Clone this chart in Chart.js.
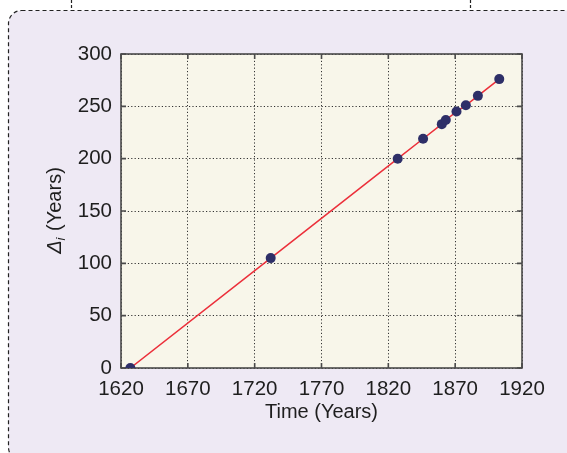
<!DOCTYPE html>
<html>
<head>
<meta charset="utf-8">
<script src="https://cdn.jsdelivr.net/npm/chart.js@4.4.0/dist/chart.umd.min.js"></script>
<style>
  html, body { margin: 0; padding: 0; background: #ffffff; }
  #wrap { width: 567px; height: 453px; position: relative; }
</style>
</head>
<body>
<div id="wrap"><canvas id="deltaChart"></canvas></div>
<script>
// observation years and the elapsed interval (years)
var years  = [1627, 1732, 1827, 1846, 1860, 1863, 1871, 1878, 1887, 1903];
var deltas = [0, 105, 200, 219, 233, 237, 245, 251, 260, 276];

var xTicks = [1620, 1670, 1720, 1770, 1820, 1870, 1920];
var yTicks = [0, 50, 100, 150, 200, 250, 300];

var FONT = '"Liberation Sans", Arial, Helvetica, sans-serif';
var TEXT = '#1e1e1e';

var points = [];
for (var i = 0; i < years.length; i++) {
    points.push({x: years[i], y: deltas[i]});
}

// lavender panel, dashed outline, cream plot box
var panelBg = {
    id: 'panelBg',
    beforeDraw: function(chart) {
        var ctx = chart.ctx, a = chart.chartArea;
        ctx.save();
        ctx.fillStyle = '#ffffff';
        ctx.fillRect(0, 0, chart.width, chart.height);

        ctx.beginPath();
        ctx.roundRect(8.5, 10.5, 570, 450, 13);
        ctx.fillStyle = '#eee9f4';
        ctx.fill();
        ctx.setLineDash([4, 3]);
        ctx.strokeStyle = '#222222';
        ctx.lineWidth = 1.2;
        ctx.stroke();

        // stubs of the callout above
        ctx.beginPath();
        ctx.moveTo(71.5, 0); ctx.lineTo(71.5, 10);
        ctx.moveTo(470.5, 0); ctx.lineTo(470.5, 10);
        ctx.setLineDash([3, 2]);
        ctx.stroke();
        ctx.setLineDash([]);

        ctx.fillStyle = '#f8f6ea';
        ctx.fillRect(a.left, a.top, a.right - a.left, a.bottom - a.top);
        ctx.restore();
    }
};

// matlab style box with inward ticks, plus y axis label
var boxFrame = {
    id: 'boxFrame',
    beforeDatasetsDraw: function(chart) {
        var ctx = chart.ctx, a = chart.chartArea;
        var xs = chart.scales.x, ys = chart.scales.y;
        ctx.save();
        ctx.strokeStyle = '#4a4a4a';
        ctx.lineWidth = 1.6;
        ctx.beginPath();
        xTicks.forEach(function(t) {
            var px = xs.getPixelForValue(t);
            ctx.moveTo(px, a.bottom); ctx.lineTo(px, a.bottom - 5);
            ctx.moveTo(px, a.top); ctx.lineTo(px, a.top + 5);
        });
        yTicks.forEach(function(t) {
            var py = ys.getPixelForValue(t);
            ctx.moveTo(a.left, py); ctx.lineTo(a.left + 5, py);
            ctx.moveTo(a.right, py); ctx.lineTo(a.right - 5, py);
        });
        ctx.stroke();
        ctx.strokeRect(a.left, a.top, a.right - a.left, a.bottom - a.top);

        // y title: Δ_i (Years)
        var cy = (a.top + a.bottom) / 2;
        ctx.translate(55, cy);
        ctx.rotate(-Math.PI / 2);
        ctx.fillStyle = TEXT;
        ctx.textBaseline = 'middle';
        var f1 = 'italic 20px ' + FONT, f2 = 'italic 13px ' + FONT, f3 = '20px ' + FONT;
        ctx.font = f1; var w1 = ctx.measureText('\u0394').width;
        ctx.font = f2; var w2 = ctx.measureText('i').width;
        ctx.font = f3; var w3 = ctx.measureText(' (Years)').width;
        var x0 = -(w1 + w2 + w3) / 2;
        ctx.font = f1; ctx.fillText('\u0394', x0, 0);
        ctx.font = f2; ctx.fillText('i', x0 + w1, 6);
        ctx.font = f3; ctx.fillText(' (Years)', x0 + w1 + w2 + 1, 0);
        ctx.restore();
    }
};

var ctx = document.getElementById('deltaChart').getContext('2d');
var chart = new Chart(ctx, {
    type: 'scatter',
    data: {
        datasets: [{
            data: points,
            showLine: true,
            borderColor: '#ec2f3a',
            borderWidth: 1.5,
            pointRadius: 5,
            pointBackgroundColor: '#2e2f68',
            pointBorderColor: '#2e2f68',
            pointBorderWidth: 0
        }]
    },
    options: {
        responsive: true,
        maintainAspectRatio: false,
        animation: false,
        layout: { padding: { left: 0, right: 45, top: 54, bottom: 0 } },
        plugins: { legend: { display: false }, tooltip: { enabled: false } },
        scales: {
            x: {
                type: 'linear',
                min: 1620, max: 1920,
                afterFit: function(s) { s.height = 85; },
                afterBuildTicks: function(s) { s.ticks = xTicks.map(function(v) { return {value: v}; }); },
                border: { display: false, dash: [1.2, 2.2] },
                grid: { color: '#333333', lineWidth: 1, drawTicks: false },
                ticks: { padding: 9, color: TEXT, font: { family: FONT, size: 20.5 }, maxRotation: 0,
                         callback: function(v) { return String(v); } },
                title: { display: true, text: 'Time (Years)', color: TEXT,
                         font: { family: FONT, size: 20 }, padding: { top: 0, bottom: 29 } }
            },
            y: {
                type: 'linear',
                min: 0, max: 300,
                afterFit: function(s) { s.width = 121; },
                afterBuildTicks: function(s) { s.ticks = yTicks.map(function(v) { return {value: v}; }); },
                border: { display: false, dash: [1.2, 2.2] },
                grid: { color: '#333333', lineWidth: 1, drawTicks: false },
                ticks: { padding: 9, color: TEXT, font: { family: FONT, size: 20.5 } }
            }
        }
    },
    plugins: [panelBg, boxFrame]
});
</script>
</body>
</html>
